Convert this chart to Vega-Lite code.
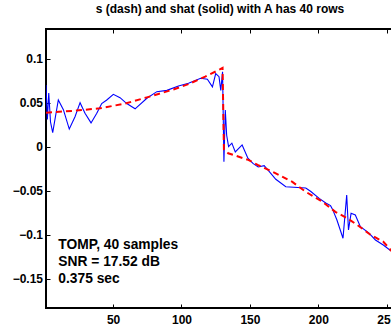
{
  "$schema": "https://vega.github.io/schema/vega-lite/v6.json",
  "width": 346,
  "height": 279,
  "autosize": {"type": "none"},
  "padding": {"left": 46, "top": 29, "right": 0, "bottom": 20},
  "background": "white",
  "config": {
    "view": {"stroke": "black", "strokeWidth": 2},
    "font": "Liberation Sans",
    "axis": {
      "labelFont": "Liberation Sans",
      "labelFontWeight": "bold",
      "labelFontSize": 12,
      "labelColor": "black",
      "tickColor": "black",
      "tickWidth": 1,
      "domain": false,
      "grid": false,
      "title": null
    }
  },
  "title": {
    "text": "s (dash) and shat (solid) with A has 40 rows",
    "font": "Liberation Sans",
    "fontSize": 12,
    "fontWeight": "bold",
    "color": "black",
    "anchor": "middle",
    "baseline": "alphabetic",
    "offset": 4,
    "dx": 1
  },
  "datasets": {
    "shat": [
      {"n": 1, "v": 0.070}, {"n": 2, "v": 0.031}, {"n": 3, "v": 0.061}, {"n": 4.3, "v": 0.028},
      {"n": 5.9, "v": 0.016}, {"n": 10, "v": 0.053}, {"n": 13.7, "v": 0.042}, {"n": 18, "v": 0.020},
      {"n": 22.2, "v": 0.034}, {"n": 25.9, "v": 0.050}, {"n": 29.5, "v": 0.038}, {"n": 33.9, "v": 0.027},
      {"n": 38.1, "v": 0.038}, {"n": 41.7, "v": 0.049}, {"n": 45.4, "v": 0.053}, {"n": 50.2, "v": 0.0595},
      {"n": 55.1, "v": 0.0557}, {"n": 60, "v": 0.049}, {"n": 66.1, "v": 0.043}, {"n": 74.7, "v": 0.055},
      {"n": 82, "v": 0.0625}, {"n": 89.3, "v": 0.064}, {"n": 97.8, "v": 0.069}, {"n": 105.1, "v": 0.072},
      {"n": 114, "v": 0.0777}, {"n": 118.9, "v": 0.0766}, {"n": 122.6, "v": 0.068}, {"n": 125, "v": 0.083},
      {"n": 127.4, "v": 0.0795}, {"n": 128.7, "v": 0.064}, {"n": 130, "v": 0.085}, {"n": 131, "v": -0.017},
      {"n": 132, "v": 0.0417}, {"n": 133, "v": 0.013}, {"n": 134.4, "v": 0.0}, {"n": 136.8, "v": 0.004},
      {"n": 139.3, "v": -0.006}, {"n": 144.3, "v": 0.002}, {"n": 148.5, "v": -0.013}, {"n": 152.2, "v": -0.019},
      {"n": 156, "v": -0.023}, {"n": 160.4, "v": -0.0216}, {"n": 164, "v": -0.028}, {"n": 168.9, "v": -0.037},
      {"n": 176.2, "v": -0.0455}, {"n": 190.8, "v": -0.047}, {"n": 194.5, "v": -0.051}, {"n": 200.6, "v": -0.0587},
      {"n": 205.4, "v": -0.064}, {"n": 208.9, "v": -0.067}, {"n": 210.3, "v": -0.071}, {"n": 213.5, "v": -0.083},
      {"n": 218, "v": -0.104}, {"n": 220.7, "v": -0.055}, {"n": 222, "v": -0.0947}, {"n": 223.9, "v": -0.0757},
      {"n": 227, "v": -0.0776}, {"n": 230.7, "v": -0.091}, {"n": 236.8, "v": -0.098}, {"n": 241.7, "v": -0.106},
      {"n": 247.7, "v": -0.112}, {"n": 252.6, "v": -0.118}, {"n": 254, "v": -0.115}, {"n": 256, "v": -0.112}
    ],
    "s": [
      {"n": 1, "v": 0.0386}, {"n": 20, "v": 0.0406}, {"n": 40.5, "v": 0.0436}, {"n": 58.8, "v": 0.049},
      {"n": 74.7, "v": 0.056}, {"n": 94.1, "v": 0.065}, {"n": 105, "v": 0.071}, {"n": 117.3, "v": 0.0795},
      {"n": 128.3, "v": 0.088}, {"n": 130, "v": 0.0895}, {"n": 131, "v": -0.003}, {"n": 134.1, "v": -0.0075},
      {"n": 148.8, "v": -0.015}, {"n": 156, "v": -0.021}, {"n": 168.5, "v": -0.030}, {"n": 181, "v": -0.040},
      {"n": 190.5, "v": -0.051}, {"n": 202.9, "v": -0.0625}, {"n": 212.4, "v": -0.074}, {"n": 221.2, "v": -0.0814},
      {"n": 228.5, "v": -0.089}, {"n": 238, "v": -0.100}, {"n": 247.5, "v": -0.108}, {"n": 253.4, "v": -0.1185},
      {"n": 256, "v": -0.121}
    ],
    "note": [
      {"n": 10, "v": -0.1163, "label": "TOMP, 40 samples\nSNR = 17.52 dB\n0.375 sec"}
    ]
  },
  "resolve": {"axis": {"x": "independent"}},
  "layer": [
    {
      "data": {"name": "shat"},
      "mark": {"type": "line", "color": "#0000ff", "strokeWidth": 1.1, "clip": true},
      "encoding": {
        "x": {"field": "n", "type": "quantitative", "scale": {"domain": [1, 253.8], "nice": false, "zero": false},
          "axis": {"orient": "bottom", "values": [50, 100, 150, 200, 250], "tickSize": -4, "labelPadding": 10, "labelFlush": false, "labelOverlap": false}},
        "y": {"field": "v", "type": "quantitative", "scale": {"domain": [-0.1833, 0.1337], "nice": false, "zero": false},
          "axis": {"orient": "left", "values": [0.1, 0.05, 0, -0.05, -0.1, -0.15], "format": "~g", "tickSize": -4, "labelPadding": 7.5, "labelFlush": false, "labelOverlap": false}}
      }
    },
    {
      "data": {"name": "s"},
      "mark": {"type": "line", "color": "#ff0000", "strokeWidth": 2, "strokeDash": [6, 4], "clip": true},
      "encoding": {
        "x": {"field": "n", "type": "quantitative",
          "axis": {"orient": "top", "values": [50, 100, 150, 200, 250], "tickSize": -4, "labels": false}},
        "y": {"field": "v", "type": "quantitative"}
      }
    },
    {
      "data": {"name": "note"},
      "mark": {"type": "text", "align": "left", "baseline": "alphabetic", "font": "Liberation Sans", "fontSize": 13.8, "fontWeight": "bold", "color": "black", "lineBreak": "\n", "lineHeight": 16.8},
      "encoding": {
        "x": {"field": "n", "type": "quantitative", "axis": null},
        "y": {"field": "v", "type": "quantitative"},
        "text": {"field": "label"}
      }
    }
  ]
}
